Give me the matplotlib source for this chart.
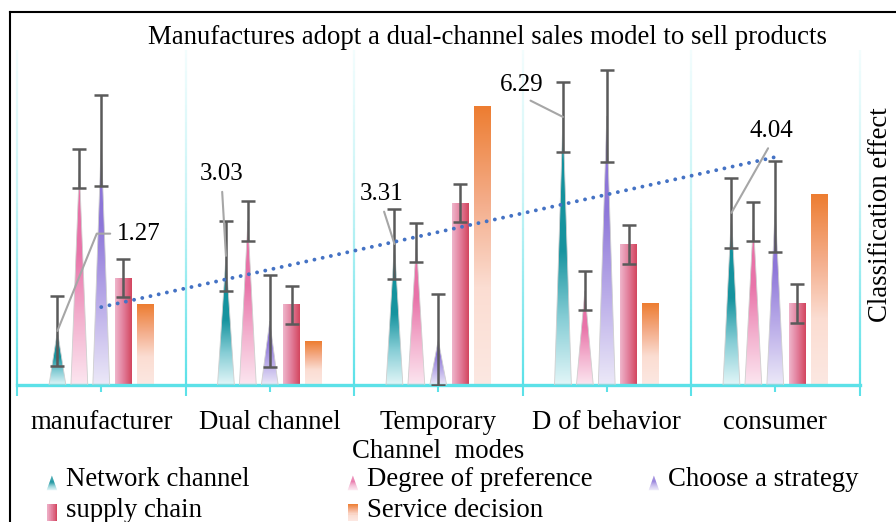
import numpy as np
import matplotlib
matplotlib.use('Agg')
import matplotlib.pyplot as plt
from matplotlib.colors import LinearSegmentedColormap
from matplotlib.patches import Polygon, Rectangle, Patch
from matplotlib.collections import LineCollection
from matplotlib.legend_handler import HandlerBase
from matplotlib.lines import Line2D

plt.rcParams['font.family'] = ['Liberation Serif', 'DejaVu Serif']

# values
categories = ['manufacturer', 'Dual channel', 'Temporary', 'D of behavior', 'consumer']
network = [1.27, 3.03, 3.31, 6.29, 4.04]
preference = [5.08, 3.85, 3.35, 2.21, 3.84]
strategy = [5.73, 1.50, 1.06, 6.31, 4.19]
supply = [2.51, 1.88, 4.27, 3.30, 1.91]
service = [1.90, 1.03, 6.53, 1.92, 4.46]
err_network = [0.82] * 5
err_preference = [0.46] * 5
err_strategy = [1.07] * 5
err_supply = [0.45] * 5
network_labels = ['1.27', '3.03', '3.31', '6.29', '4.04']
series_names = ['Network channel', 'Degree of preference', 'Choose a strategy',
                'supply chain', 'Service decision']

FS = 19.3
CYAN = '#5CE1E8'
ERR = '#5a5a5a'

cm_teal = LinearSegmentedColormap.from_list('teal', [(0, '#E2F6F8'), (0.25, '#86CDD5'),
                                                     (0.5, '#17949F'), (1, '#10909C')])
cm_pink = LinearSegmentedColormap.from_list('pink', [(0, '#FCE6F0'), (0.3, '#F3B2CF'),
                                                     (0.6, '#E975AA'), (1, '#E86CA4')])
cm_purple = LinearSegmentedColormap.from_list('purple', [(0, '#ECE9F8'), (0.3, '#BFB2EA'),
                                                         (0.65, '#8E77D9'), (1, '#8A72D7')])
cm_supply = LinearSegmentedColormap.from_list('supply', ['#EFB6CC', '#E27E9B', '#D3455E'])
cm_service = LinearSegmentedColormap.from_list('service', [(0, '#FCE8E2'), (0.35, '#FBDDD2'),
                                                           (0.65, '#F4AE8C'), (1, '#ED7D31')])
cm_grid = LinearSegmentedColormap.from_list('grid', ['#5CE1E8', '#C8F4F6', '#FFFFFF'])

fig = plt.figure(figsize=(8.96, 5.22), dpi=100)
ax = fig.add_axes([17 / 896, 137 / 522, 842.5 / 896, 335 / 522])

x = np.arange(len(categories))
w = 0.1
step = 0.13
grad = np.linspace(0, 1, 256)


def cone(xc, h, cmap):
    tri = Polygon([(xc - w / 2, 0), (xc + w / 2, 0), (xc, h)], closed=True,
                  facecolor='none', edgecolor='#cfcfcf', lw=0.6, zorder=3)
    ax.add_patch(tri)
    im = ax.imshow(grad.reshape(-1, 1), cmap=cmap, origin='lower', aspect='auto',
                   extent=(xc - w / 2, xc + w / 2, 0, h), zorder=2, interpolation='bilinear')
    im.set_clip_path(tri)


def bar(xc, h, cmap, horizontal):
    arr = grad.reshape(1, -1) if horizontal else grad.reshape(-1, 1)
    ax.imshow(arr, cmap=cmap, origin='lower', aspect='auto',
              extent=(xc - w / 2, xc + w / 2, 0, h), zorder=2, interpolation='bilinear')


for i in range(len(categories)):
    cone(x[i] - 2 * step, network[i], cm_teal)
    cone(x[i] - step, preference[i], cm_pink)
    cone(x[i], strategy[i], cm_purple)
    bar(x[i] + step, supply[i], cm_supply, True)
    bar(x[i] + 2 * step, service[i], cm_service, False)

ekw = dict(fmt='none', ecolor=ERR, elinewidth=1.8, capsize=4.7, capthick=1.8, zorder=5)
ax.errorbar(x - 2 * step, network, yerr=err_network, **ekw)
ax.errorbar(x - step, preference, yerr=err_preference, **ekw)
ax.errorbar(x, strategy, yerr=err_strategy, **ekw)
ax.errorbar(x + step, supply, yerr=err_supply, **ekw)

# linear trend of the network channel series
coef = np.polyfit(x, network, 1)
xt = np.linspace(0, 4, 200)
ax.plot(xt, np.polyval(coef, xt), color='#4472C4', lw=2.8,
        linestyle=(0, (0.01, 2.15)), dash_capstyle='round', zorder=6)

# data labels with leader lines (offsets in points from the cone tip)
label_pos = [(43, 70, (0, 0.5), 'angle,angleA=0,angleB=68,rad=0', 'left'),
             (-3, 59, (0.5, 0), 'arc3', 'center'),
             (-9, 36, (0.5, 0), 'arc3', 'center'),
             (-30, 23, (0.5, 0), 'arc3', 'center'),
             (29, 59, (0.5, 0), 'arc3', 'center')]
for i, (dx, dy, rp, cs, ha) in enumerate(label_pos):
    ax.annotate(network_labels[i], xy=(x[i] - 2 * step, network[i]), xytext=(dx, dy),
                textcoords='offset points', ha=ha, va='center', fontsize=18, zorder=7,
                arrowprops=dict(arrowstyle='-', color='#A6A6A6', lw=1.5, relpos=rp,
                                connectionstyle=cs, shrinkA=3, shrinkB=0))

ymax = 7.86
# fading vertical gridlines at category boundaries
ys = np.linspace(0, ymax, 80)
segs, cols = [], []
for b in np.arange(-0.5, len(categories)):
    for j in range(len(ys) - 1):
        segs.append([(b, ys[j]), (b, ys[j + 1])])
        cols.append(cm_grid(j / (len(ys) - 1) * 0.9))
ax.add_collection(LineCollection(segs, colors=cols, lw=1.6, zorder=1, clip_on=False))

ax.set_xlim(-0.5, len(categories) - 0.5)
ax.set_ylim(0, ymax)
for s in ['top', 'left', 'right']:
    ax.spines[s].set_visible(False)
ax.spines['bottom'].set_color(CYAN)
ax.spines['bottom'].set_linewidth(2.4)
ax.set_yticks([])
ax.set_xticks(x, categories, fontsize=FS)
ax.set_xticks(np.arange(-0.5, len(categories)), minor=True)
ax.tick_params(axis='x', which='major', length=5, width=1.5, color=CYAN, pad=13)
ax.tick_params(axis='x', which='minor', length=8, width=1.5, color=CYAN)
ax.set_xlabel('Channel  modes', fontsize=FS, labelpad=3)

fig.text(487 / 896, 1 - 38 / 522, 'Manufactures adopt a dual-channel sales model to sell products',
         fontsize=FS, ha='center', va='center')
fig.text(880 / 896, 1 - 215 / 522, 'Classification effect', fontsize=FS, rotation=90,
         ha='center', va='center')

# frame of the chart area (left and top only visible)
fig.add_artist(Line2D([10 / 896, 10 / 896], [0, 1 - 12 / 522], color='black', lw=1.5))
fig.add_artist(Line2D([10 / 896, 1], [1 - 12 / 522, 1 - 12 / 522], color='black', lw=1.5))


class GradHandler(HandlerBase):
    def __init__(self, cmap, shape):
        super().__init__()
        self.cmap = cmap
        self.shape = shape

    def create_artists(self, legend, orig_handle, xdescent, ydescent, width, height,
                       fontsize, trans):
        n = 16
        bw = 7.5
        x0 = -xdescent + 0.5
        y0 = -ydescent - 3
        arts = []
        if self.shape == 'tri':
            th = 10.5
            cx = x0 + bw / 2
            for k in range(n):
                ya, yb = k / n * th, (k + 1) / n * th
                ha_, hb_ = bw / 2 * (1 - ya / th), bw / 2 * (1 - yb / th)
                arts.append(Polygon([(cx - ha_, y0 + ya), (cx + ha_, y0 + ya),
                                     (cx + hb_, y0 + yb), (cx - hb_, y0 + yb)],
                                    facecolor=self.cmap((k + 0.5) / n), lw=0,
                                    transform=trans))
        elif self.shape == 'hrect':
            th = 12.5
            for k in range(n):
                arts.append(Rectangle((x0 + k / n * bw, y0), bw / n + 0.05, th,
                                      facecolor=self.cmap((k + 0.5) / n), lw=0,
                                      transform=trans))
        else:
            th = 12.5
            for k in range(n):
                arts.append(Rectangle((x0, y0 + k / n * th), bw, th / n + 0.05,
                                      facecolor=self.cmap((k + 0.5) / n), lw=0,
                                      transform=trans))
        return arts


handles = [Patch(label=nm) for nm in series_names]
hmap = {handles[0]: GradHandler(cm_teal, 'tri'),
        handles[1]: GradHandler(cm_pink, 'tri'),
        handles[2]: GradHandler(cm_purple, 'tri'),
        handles[3]: GradHandler(cm_supply, 'hrect'),
        handles[4]: GradHandler(cm_service, 'vrect')}
leg_cols = [([handles[0], handles[3]], 46), ([handles[1], handles[4]], 347), ([handles[2]], 648)]
for hs, px in leg_cols:
    fig.legend(handles=hs, labels=[h.get_label() for h in hs], handler_map=hmap,
               loc='upper left', bbox_to_anchor=(px / 896, 1 - 467 / 522), frameon=False,
               fontsize=FS, handlelength=0.5, handletextpad=0.25, labelspacing=0.22,
               borderpad=0, borderaxespad=0)

fig.savefig('out.png', dpi=100)
